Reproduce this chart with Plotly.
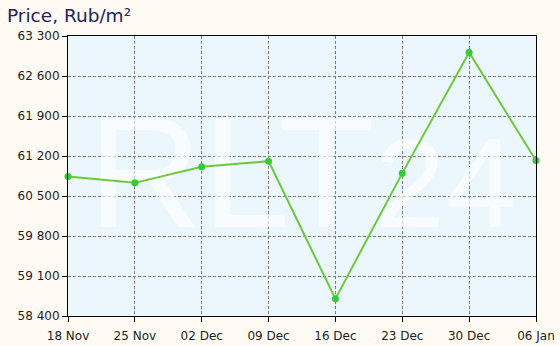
import plotly.graph_objects as go

dates = ["18 Nov", "25 Nov", "02 Dec", "09 Dec", "16 Dec", "23 Dec", "30 Dec", "06 Jan"]
prices = [60840, 60730, 61010, 61110, 58700, 60900, 63010, 61120]
y_ticks = [58400, 59100, 59800, 60500, 61200, 61900, 62600, 63300]

x_idx = list(range(len(dates)))

fig = go.Figure()
# watermark drawn first so it sits beneath the line
fig.add_trace(go.Scatter(
    x=[3.5], y=[60650], mode="text",
    text=["RLT<span style='font-size:127px'>24</span>"],
    textposition="middle center",
    textfont=dict(family="Liberation Sans", size=158, color="rgba(255,255,255,0.65)"),
    hoverinfo="skip"))
fig.add_trace(go.Scatter(
    x=x_idx, y=prices, mode="lines+markers",
    line=dict(color="#6cc83c", width=2),
    marker=dict(color="#33cc33", size=7),
    cliponaxis=False, hoverinfo="skip"))

fig.update_layout(
    width=560, height=346,
    margin=dict(l=68, r=24, t=36, b=30, autoexpand=False),
    paper_bgcolor="#fffbf4",
    plot_bgcolor="#ecf7fd",
    showlegend=False,
    separators=". ",
    font=dict(family="DejaVu Sans", size=12, color="#222222"),
    annotations=[
        dict(text="Price, Rub/m²", xref="paper", yref="paper", x=-0.134, y=1.075,
             xanchor="left", yanchor="middle", showarrow=False,
             font=dict(family="DejaVu Sans", size=18.5, color="#22235e")),
    ],
)
fig.update_xaxes(
    range=[0, 7], tickvals=x_idx, ticktext=dates, automargin=False,
    showline=True, linecolor="black", linewidth=1, mirror=True,
    ticks="outside", ticklen=5, tickcolor="black", ticklabelstandoff=4,
    showgrid=True, gridcolor="#808080", griddash="3px,2px", gridwidth=1,
    zeroline=False)
fig.update_yaxes(
    range=[58400, 63300], tickvals=y_ticks, tickformat=",d", automargin=False,
    showline=True, linecolor="black", linewidth=1, mirror=True,
    ticks="outside", ticklen=5, tickcolor="black",
    showgrid=True, gridcolor="#808080", griddash="3px,2px", gridwidth=1,
    zeroline=False)

fig.write_html("out.html")
